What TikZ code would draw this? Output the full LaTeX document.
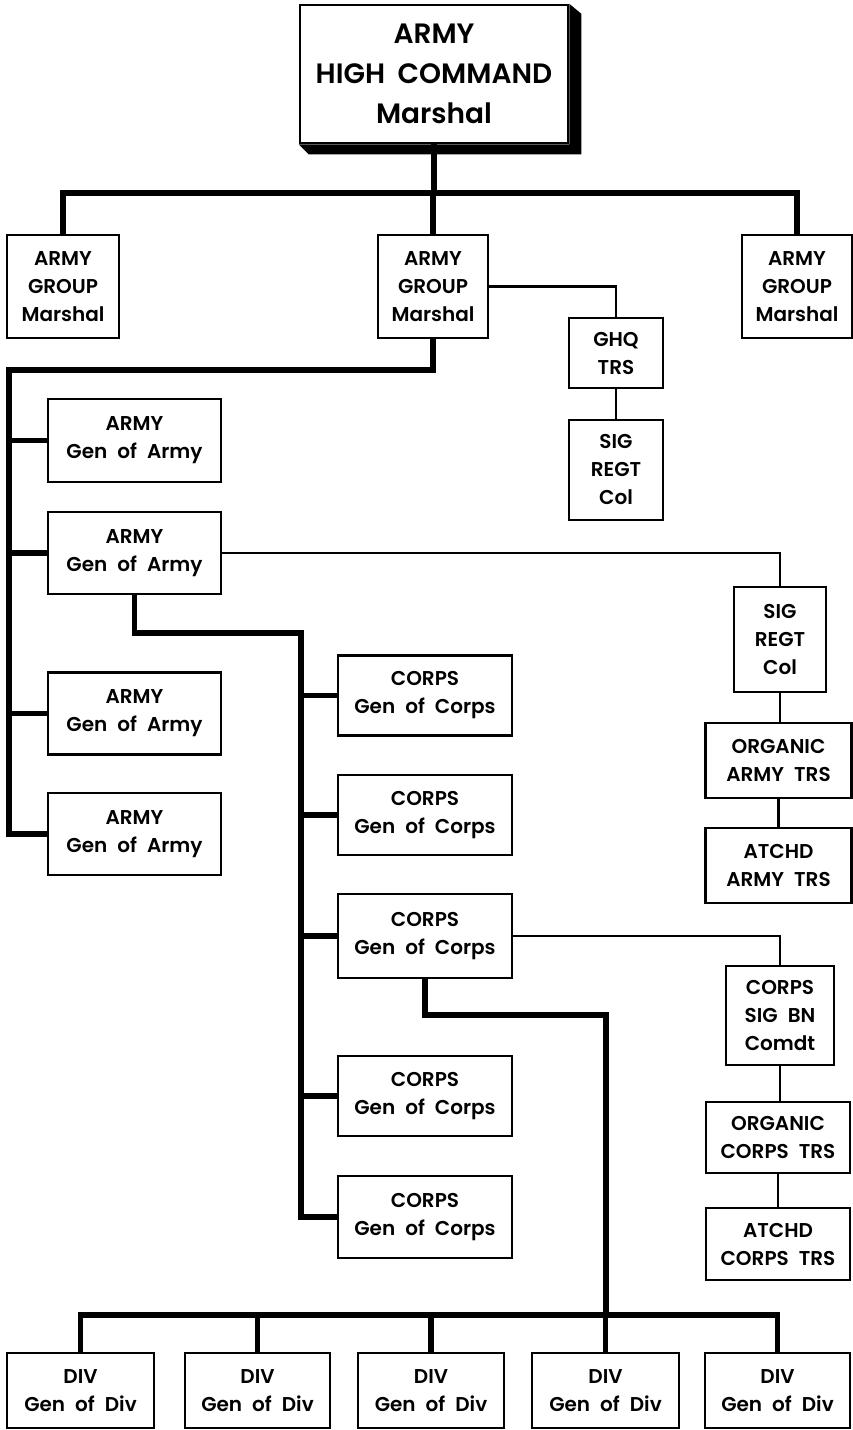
\documentclass[tikz,border=0pt]{standalone}
\usepackage{fontspec}
\setmainfont{Poppins}[UprightFont={* SemiBold}]
\usetikzlibrary{calc}
\newcommand\boxfont{\fontsize{20}{28}\selectfont\spaceskip=0.5em plus 0.1em\relax}
\newcommand\bigboxfont{\fontsize{28}{40}\selectfont\spaceskip=0.45em plus 0.1em\relax}
\tikzset{
  orgbox/.style={draw, line width=2.5pt, fill=white, inner sep=0pt, align=center, font=\boxfont},
  bar/.style={line width=5.5pt, line join=miter},
  thinline/.style={line width=2.5pt, line join=miter},
}
\begin{document}
\begin{tikzpicture}[x=1pt,y=-1pt]
\useasboundingbox (0,0) rectangle (852,1430);
% top box
\node[orgbox, font=\bigboxfont, minimum width=268, minimum height=138] (hc) at (434,74) {ARMY\\HIGH COMMAND\\Marshal};
\fill (hc.south west) -- ++(10,10) -- ($(hc.south east)+(12,10)$) -- ($(hc.north east)+(12,10)$) -- (hc.north east) -- (hc.south east) -- cycle;
% army groups
\node[orgbox, minimum width=112, minimum height=103] (ag1) at (63,286.5) {ARMY\\GROUP\\Marshal};
\node[orgbox, minimum width=110, minimum height=103] (ag2) at (433,286.5) {ARMY\\GROUP\\Marshal};
\node[orgbox, minimum width=110, minimum height=103] (ag3) at (797,286.5) {ARMY\\GROUP\\Marshal};
\node[orgbox, minimum width=94, minimum height=70] (ghq) at (616,353) {GHQ\\TRS};
\node[orgbox, minimum width=94, minimum height=100] (sigg) at (616,470) {SIG\\REGT\\Col};
% armies
\node[orgbox, minimum width=173, minimum height=83] (a1) at (134.5,440.5) {ARMY\\Gen of Army};
\node[orgbox, minimum width=173, minimum height=82] (a2) at (134.5,553) {ARMY\\Gen of Army};
\node[orgbox, minimum width=173, minimum height=82] (a3) at (134.5,713.5) {ARMY\\Gen of Army};
\node[orgbox, minimum width=173, minimum height=82] (a4) at (134.5,834) {ARMY\\Gen of Army};
% army signal column
\node[orgbox, minimum width=92, minimum height=105] (sra) at (780,639.5) {SIG\\REGT\\Col};
\node[orgbox, minimum width=146, minimum height=75] (oat) at (778.5,760.5) {ORGANIC\\ARMY TRS};
\node[orgbox, minimum width=146, minimum height=75] (aat) at (778.5,865.5) {ATCHD\\ARMY TRS};
% corps
\node[orgbox, minimum width=174, minimum height=80] (c1) at (425,695.5) {CORPS\\Gen of Corps};
\node[orgbox, minimum width=174, minimum height=80] (c2) at (425,815) {CORPS\\Gen of Corps};
\node[orgbox, minimum width=174, minimum height=84] (c3) at (425,936) {CORPS\\Gen of Corps};
\node[orgbox, minimum width=174, minimum height=80] (c4) at (425,1096) {CORPS\\Gen of Corps};
\node[orgbox, minimum width=174, minimum height=82] (c5) at (425,1217) {CORPS\\Gen of Corps};
% corps signal column
\node[orgbox, minimum width=108, minimum height=99] (csb) at (780,1015.5) {CORPS\\SIG BN\\Comdt};
\node[orgbox, minimum width=144, minimum height=71] (oct) at (778,1137.5) {ORGANIC\\CORPS TRS};
\node[orgbox, minimum width=144, minimum height=72] (act) at (778,1244) {ATCHD\\CORPS TRS};
% divisions
\node[orgbox, minimum width=147, minimum height=75] (d1) at (80.5,1390.5) {DIV\\Gen of Div};
\node[orgbox, minimum width=145, minimum height=75] (d2) at (257.5,1390.5) {DIV\\Gen of Div};
\node[orgbox, minimum width=146, minimum height=75] (d3) at (431,1390.5) {DIV\\Gen of Div};
\node[orgbox, minimum width=147, minimum height=75] (d4) at (605.5,1390.5) {DIV\\Gen of Div};
\node[orgbox, minimum width=145, minimum height=75] (d5) at (777.5,1390.5) {DIV\\Gen of Div};
% bus coordinates
\coordinate (topbus) at (0,193);
\coordinate (armybus) at (9,370);
\coordinate (corpsbus) at (301,633);
\coordinate (divturn) at (606,1015);
\coordinate (divbus) at (0,1315);
% top connectors
\draw[bar] (hc.south) -- (hc.south |- topbus);
\draw[bar] (ag1.north) |- (ag3.north |- topbus) -- (ag3.north);
\draw[bar] (ag2.north) -- (ag2.north |- topbus);
\draw[thinline] (ag2.east) -| (ghq.north);
\draw[thinline] (ghq.south) -- (sigg.north);
% armies
\draw[bar] (ag2.south) |- (armybus) |- (a4.west);
\draw[bar] (a1.west) -- (a1.west -| armybus);
\draw[bar] (a2.west) -- (a2.west -| armybus);
\draw[bar] (a3.west) -- (a3.west -| armybus);
\draw[thinline] (a2.east) -| (sra.north);
\draw[thinline] (sra.south) -- (sra.south |- oat.north);
\draw[thinline] (oat.south) -- (aat.north);
% corps
\draw[bar] (a2.south) |- (corpsbus) |- (c5.west);
\draw[bar] (c1.west) -- (c1.west -| corpsbus);
\draw[bar] (c2.west) -- (c2.west -| corpsbus);
\draw[bar] (c3.west) -- (c3.west -| corpsbus);
\draw[bar] (c4.west) -- (c4.west -| corpsbus);
\draw[thinline] (c3.east) -| (csb.north);
\draw[thinline] (csb.south) -- (csb.south |- oct.north);
\draw[thinline] (oct.south) -- (act.north);
% divisions
\draw[bar] (c3.south) |- (divturn) -- (divturn |- divbus);
\draw[bar] (d1.north) |- (d5.north |- divbus) -- (d5.north);
\draw[bar] (d2.north) -- (d2.north |- divbus);
\draw[bar] (d3.north) -- (d3.north |- divbus);
\draw[bar] (d4.north) -- (d4.north |- divbus);
\end{tikzpicture}
\end{document}
